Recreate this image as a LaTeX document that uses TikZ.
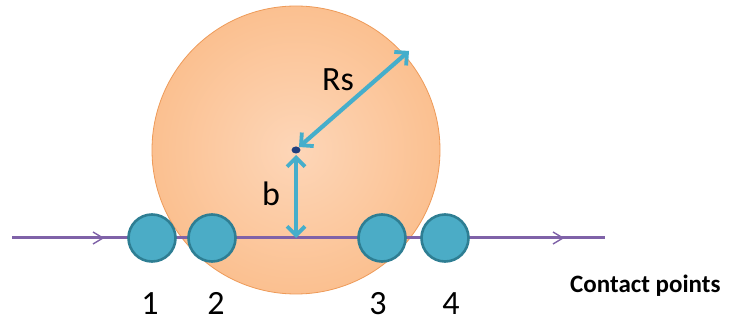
\documentclass[tikz,border=0pt]{standalone}
\usepackage{fontspec}
\setmainfont{Carlito}
\usetikzlibrary{arrows.meta,calc,shapes.geometric}
\definecolor{sphere}{HTML}{FBC090}
\definecolor{spherein}{HTML}{FDD6B8}
\definecolor{sphereedge}{HTML}{EE9A58}
\definecolor{ball}{HTML}{4BACC6}
\definecolor{balledge}{HTML}{2E7E93}
\definecolor{track}{HTML}{7F62A8}
\definecolor{dim}{HTML}{45AECB}
\definecolor{dotc}{HTML}{1F3F7F}
\tikzset{
  contact/.style={circle,fill=ball,draw=balledge,line width=2.6pt,minimum size=47pt,inner sep=0pt},
  dimarrow/.style={draw=dim,line width=4.2pt,{Straight Barb[length=9pt,width=18pt,line width=3.8pt]}-{Straight Barb[length=9pt,width=18pt,line width=3.8pt]}},
  lbl/.style={font=\fontsize{34}{34}\selectfont,inner sep=0pt},
  chev/.style={draw=track,line width=1.4pt}
}
\begin{document}
\begin{tikzpicture}[x=1pt,y=-1pt]
\useasboundingbox (0,0) rectangle (729,323);
% sphere
\shade[inner color=spherein,outer color=sphere] (296,150) circle (144);
\draw[sphereedge,line width=0.8pt] (296,150) circle (144);
% track
\coordinate (L) at (12,238);
\coordinate (R) at (605,238);
\draw[track,line width=3pt] (L) -- (R);
\draw[chev] (93,232) -- (103,238) -- (93,244);
\draw[chev] (553,232) -- (563,238) -- (553,244);
% contact balls
\node[contact] (c1) at (152,238) {};
\node[contact] (c2) at (212,238) {};
\node[contact] (c3) at (382,238) {};
\node[contact] (c4) at (445,238) {};
% center and arrows
\coordinate (o) at (296,150);
\coordinate (top) at (409,51);
\coordinate (foot) at (296,238);
\draw[dimarrow] ($(o)+(3,-3)$) -- (top);
\draw[dimarrow] ($(o)+(0,5)$) -- (foot);
\node[fill=dotc,ellipse,minimum width=9pt,minimum height=7pt,inner sep=0pt] (dot) at (o) {};
% labels
\node[lbl] (rs) at (338,80) {Rs};
\node[lbl] (b) at (271,194) {b};
\node[lbl,anchor=base] (n1) at (150,315) {1};
\node[lbl,anchor=base] (n2) at (216,315) {2};
\node[lbl,anchor=base] (n3) at (378,315) {3};
\node[lbl,anchor=base] (n4) at (451,315) {4};
\node[font=\bfseries\fontsize{25}{25}\selectfont,inner sep=0pt,anchor=base west] (cp) at (570,293) {Contact points};
\end{tikzpicture}
\end{document}
